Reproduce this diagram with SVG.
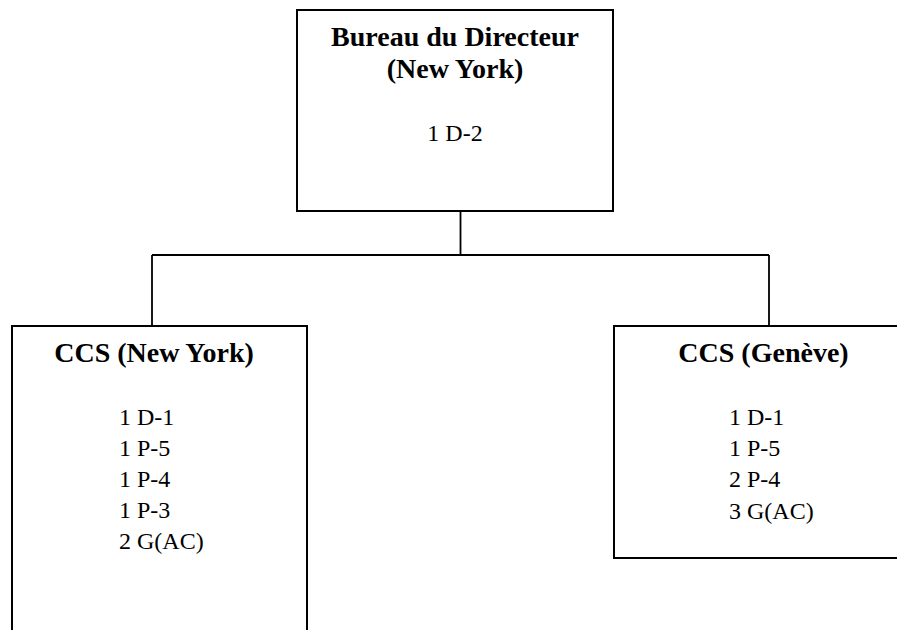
<svg xmlns="http://www.w3.org/2000/svg" width="897" height="630" viewBox="0 0 897 630">
  <style>
    .box { fill: #ffffff; stroke: #000000; stroke-width: 2; }
    .conn { fill: none; stroke: #000000; stroke-width: 1.8; }
    .title { font-family: "Liberation Serif", "Times New Roman", serif; font-weight: bold; font-size: 28px; fill: #000000; }
    .body { font-family: "Liberation Serif", "Times New Roman", serif; font-size: 24px; fill: #000000; }
  </style>
  <rect width="897" height="630" fill="#ffffff"/>
  <g id="connectors">
    <path class="conn" d="M460.5 211 V255 M152 255 H769 M152 255 V326 M769 255 V326"/>
  </g>
  <g id="node-bureau">
    <rect class="box" x="297" y="10" width="316" height="201"/>
    <text class="title" x="455" y="46" text-anchor="middle">Bureau du Directeur</text>
    <text class="title" x="455" y="78" text-anchor="middle">(New York)</text>
    <text class="body" x="455" y="141" text-anchor="middle">1 D-2</text>
  </g>
  <g id="node-ccs-ny">
    <rect class="box" x="12" y="326" width="295" height="330"/>
    <text class="title" x="154" y="362" text-anchor="middle">CCS (New York)</text>
    <text class="body" x="119" y="425">1 D-1</text>
    <text class="body" x="119" y="456">1 P-5</text>
    <text class="body" x="119" y="487">1 P-4</text>
    <text class="body" x="119" y="518">1 P-3</text>
    <text class="body" x="119" y="549">2 G(AC)</text>
  </g>
  <g id="node-ccs-geneve">
    <rect class="box" x="614" y="326" width="320" height="232"/>
    <text class="title" x="763.5" y="362" text-anchor="middle">CCS (Genève)</text>
    <text class="body" x="729" y="425">1 D-1</text>
    <text class="body" x="729" y="456">1 P-5</text>
    <text class="body" x="729" y="487">2 P-4</text>
    <text class="body" x="729" y="519">3 G(AC)</text>
  </g>
</svg>
